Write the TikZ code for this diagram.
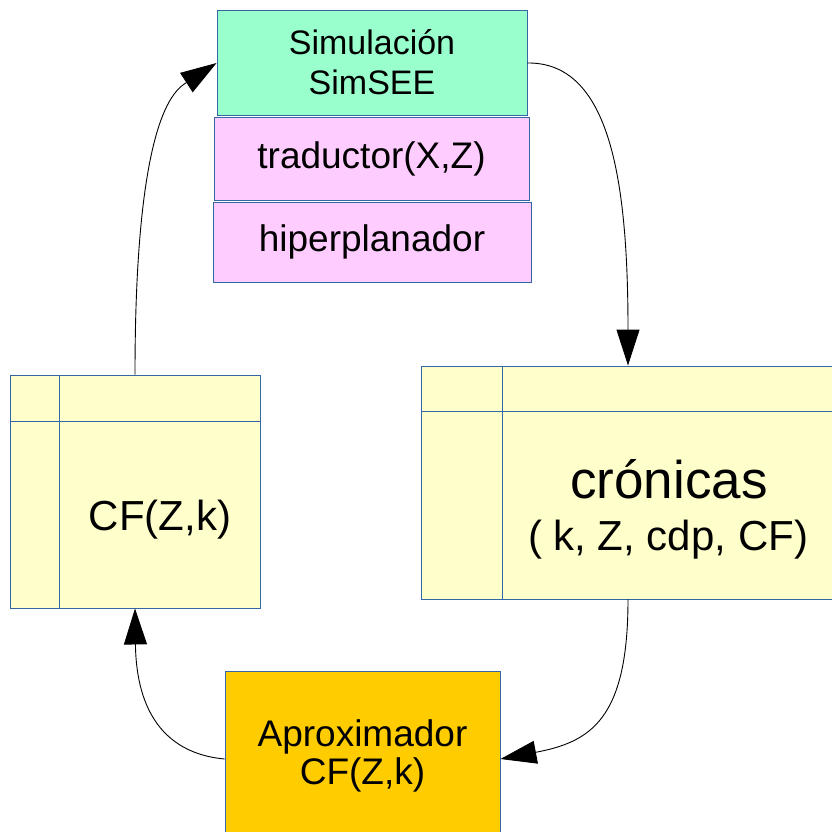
\documentclass[tikz,border=0pt]{standalone}
\usepackage{fontspec}
\setmainfont{Liberation Sans}
\usetikzlibrary{arrows.meta}
\definecolor{bordc}{HTML}{3465A4}
\definecolor{mint}{HTML}{99FFCC}
\definecolor{pinkc}{HTML}{FFCCFF}
\definecolor{yel}{HTML}{FFFFCC}
\definecolor{gold}{HTML}{FFCC00}
\tikzset{
  boxst/.style={draw=bordc, line width=0.9pt, inner sep=0pt, align=center},
  conn/.style={draw=black, line width=0.9pt, -{Triangle[length=36pt,width=23pt]}},
  txtst/.style={inner sep=0pt, anchor=base}
}
\begin{document}
\begin{tikzpicture}[x=1pt,y=-1pt]
\useasboundingbox (0,0) rectangle (832,832);
% top boxes
\node[boxst, fill=mint, minimum width=310pt, minimum height=105pt, font=\fontsize{34}{40}\selectfont] (sim) at (372,62.5) {Simulación\\SimSEE};
\node[boxst, fill=pinkc, minimum width=315pt, minimum height=83pt, font=\fontsize{37}{42}\selectfont] (trad) at (371.5,158.5) {traductor(X,Z)};
\node[boxst, fill=pinkc, minimum width=318pt, minimum height=80pt, font=\fontsize{37}{42}\selectfont] (hip) at (372,242) {hiperplanador};
% left table box
\node[boxst, fill=yel, minimum width=250pt, minimum height=233pt] (cf) at (135,491.5) {};
\draw[bordc, line width=0.9pt] (59,375) -- (59,608) (10,421) -- (260,421);
\node[txtst, font=\fontsize{42}{48}\selectfont] (cft) at (160,530) {CF(Z,k)};
% right table box
\node[boxst, fill=yel, minimum width=411pt, minimum height=233pt] (cro) at (626.5,482.5) {};
\draw[bordc, line width=0.9pt] (502,366) -- (502,599) (421,411) -- (832,411);
\node[txtst, font=\fontsize{53}{60}\selectfont] (crot) at (669,498) {crónicas};
\node[txtst, font=\fontsize{42}{48}\selectfont] (crot2) at (668,550) {( k, Z, cdp, CF)};
% bottom box
\node[boxst, fill=gold, minimum width=275pt, minimum height=169pt, font=\fontsize{37}{38}\selectfont] (apx) at (362.5,755.5) {Aproximador\\CF(Z,k)};
% connectors
\draw[conn] (cf.north) .. controls (135,115) and (175,90) .. ([yshift=-0.5pt]sim.west);
\draw[conn] ([yshift=-0.5pt]sim.east) .. controls (610,62) and (628,180) .. (cro.north -| 628,0);
\draw[conn] (cro.south -| 628,0) .. controls (628,720) and (590,742) .. ([yshift=-3.5pt]apx.east);
\draw[conn] ([yshift=-3.5pt]apx.west) .. controls (150,752) and (136,690) .. (cf.south);
\end{tikzpicture}
\end{document}
